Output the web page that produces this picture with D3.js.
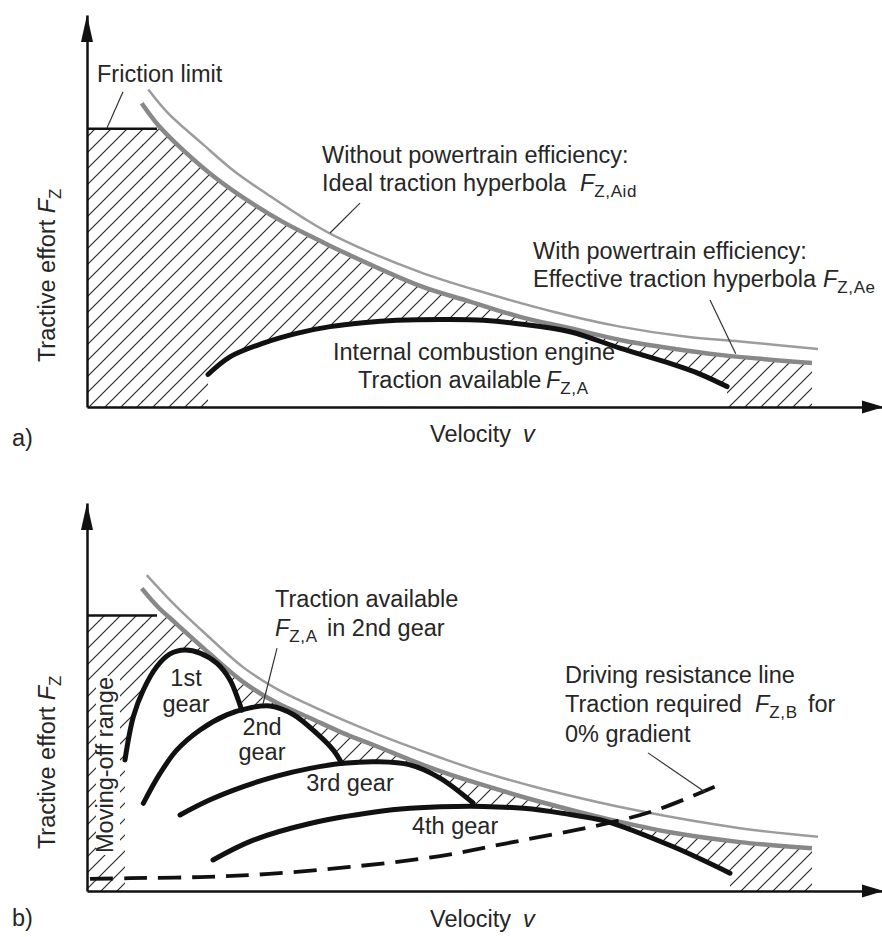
<!DOCTYPE html>
<html><head><meta charset="utf-8">
<script src="https://cdn.jsdelivr.net/npm/d3@7"></script>
<style>
html,body{margin:0;padding:0;background:#fff;}
svg{display:block;}
text{font-family:"Liberation Sans",Arial,Helvetica,sans-serif;fill:#262626;white-space:pre;}
</style></head><body>
<svg id="chart" width="882" height="937"></svg>
<script>
// ---------- data (velocity v, tractive effort F in relative units 0..100) ----------
const FRICTION = 71;          // friction limit level
const FRICTION_END = 8.83;    // v where friction line ends
// panel a
const idealA = [[7.73,81.0],[10.25,74.9],[14.46,67.3],[18.66,60.0],[22.86,54.1],[27.07,48.5],[31.27,43.6],[41.99,34.4],[50.40,29.0],[58.80,24.3],[67.21,20.5],[75.62,17.9],[82.35,16.7],[92.18,14.8]];
const effectiveA = [[6.90,77.5],[8.99,71.9],[12.36,65.1],[16.56,57.9],[20.77,52.0],[24.97,46.9],[29.17,42.6],[31.27,40.5],[41.99,30.9],[48.30,26.9],[54.60,23.0],[60.91,20.1],[67.21,17.1],[73.52,15.0],[79.82,13.3],[91.42,11.2]];
const engineA = [[15.26,8.3],[18.03,12.8],[22.23,16.3],[26.44,18.8],[30.64,20.5],[34.80,21.5],[39.05,22.1],[45.78,22.3],[50.0,22.1],[54.60,21.2],[60.91,19.2],[67.21,15.0],[73.52,11.1],[77.30,8.4],[80.71,5.2]];
// panel b
const idealB = [[7.53,81.4],[11.31,73.2],[15.51,65.2],[19.67,57.7],[23.92,52.1],[28.12,47.9],[32.28,44.1],[36.53,40.5],[40.73,37.2],[44.51,34.4],[50.0,30.6],[57.12,26.5],[69.73,20.6],[82.35,16.2],[92.18,14.0]];
const effectiveB = [[6.90,78.0],[8.95,73.2],[11.31,68.8],[15.51,61.1],[19.67,53.9],[23.92,48.5],[28.12,44.6],[32.28,40.7],[36.53,37.3],[40.73,33.8],[44.51,30.9],[48.68,28.1],[57.12,23.0],[65.57,18.6],[73.90,15.0],[82.35,12.6],[91.42,11.0]];
const gear1 = [[4.79,33.8],[5.84,44.9],[7.10,51.8],[8.79,57.8],[10.47,61.1],[12.36,62.1],[14.25,61.3],[16.36,58.7],[18.03,54.4],[19.08,49.2],[19.51,46.6]];
const gear2 = [[7.10,22.6],[9.21,30.3],[11.31,36.3],[14.25,41.5],[17.62,45.4],[20.55,47.2],[23.08,47.7],[26.01,45.5],[28.97,40.6],[31.06,36.3],[32.12,32.9]];
const gear3 = [[11.73,19.6],[15.51,23.5],[19.71,26.9],[23.92,29.6],[28.12,31.6],[32.32,32.9],[36.53,33.3],[40.73,32.5],[44.51,29.1],[48.68,22.7]];
const gear4 = [[15.89,8.0],[20.97,13.1],[28.12,17.4],[36.53,20.4],[40.73,21.3],[44.51,21.7],[50.0,21.8],[55.02,21.3],[60.0,20.0],[65.54,17.9],[73.93,11.4],[81.08,4.6]];
const resistanceB = [[0.38,3.1],[5.42,3.3],[14.25,3.6],[22.95,4.4],[33.17,6.2],[44.51,9.0],[52.93,12.3],[65.54,17.4],[71.84,20.9],[79.41,27.1]];
// leader lines [[v1,F1],[v2,F2]]
const leadersA = [[[4.54,80.4],[2.52,71.2]],[[34.43,52.0],[30.64,44.4]],[[78.56,27.3],[81.8,13.6]]];
const leadersB = [[[23.96,62.6],[22.19,48.2]],[[70.74,35.6],[77.93,25.5]]];

// ---------- setup ----------
const svg = d3.select('#chart');
const x = d3.scaleLinear().domain([0,100.5]).range([87,884]);
const yA = d3.scaleLinear().domain([0,100]).range([407,15]);
const yB = d3.scaleLinear().domain([0,100]).range([891,503]);

const defs = svg.append('defs');
defs.append('pattern').attr('id','hatch').attr('patternUnits','userSpaceOnUse')
  .attr('width',16).attr('height',16)
  .append('path').attr('d','M-3,3 L3,-3 M0,16 L16,0 M13,19 L19,13')
  .attr('stroke','#2a2a2a').attr('stroke-width',1.2).attr('fill','none');

const curve = d3.curveCatmullRom.alpha(0.5);

function drawPanel(id, y, ideal, eff, lowers, blackCurves) {
  const g = svg.append('g');
  const area = d3.area().x(d=>x(d[0])).y0(y(0)).y1(d=>y(d[1])).curve(curve);
  const line = d3.line().x(d=>x(d[0])).y(d=>y(d[1])).curve(curve);
  // hatched region: below friction limit and effective hyperbola
  const clipId = 'clip'+id;
  defs.append('clipPath').attr('id',clipId).append('rect')
    .attr('x',x(0)).attr('y',y(FRICTION))
    .attr('width',x(eff[eff.length-1][0])-x(0)).attr('height',y(0)-y(FRICTION));
  const hg = g.append('g').attr('clip-path',`url(#${clipId})`);
  hg.append('rect').attr('x',x(0)).attr('y',y(FRICTION))
    .attr('width',x(eff[0][0])-x(0)+1).attr('height',y(0)-y(FRICTION)).attr('fill','url(#hatch)');
  hg.append('path').attr('d',area(eff)).attr('fill','url(#hatch)');
  // remove hatching below the available-traction curves
  lowers.forEach(c=>g.append('path').attr('d',area(c)).attr('fill','#fff'));
  // hyperbolas
  g.append('path').attr('d',line(ideal)).attr('fill','none').attr('stroke','#9c9c9c').attr('stroke-width',2.5);
  g.append('path').attr('d',line(eff)).attr('fill','none').attr('stroke','#888').attr('stroke-width',4.5);
  // friction limit
  g.append('line').attr('x1',x(0)).attr('x2',x(FRICTION_END)).attr('y1',y(FRICTION)).attr('y2',y(FRICTION))
    .attr('stroke','#111').attr('stroke-width',2.5);
  blackCurves.forEach(c=>g.append('path').attr('d',line(c)).attr('fill','none')
    .attr('stroke','#111').attr('stroke-width',5).attr('stroke-linecap','round'));
  // axes
  g.append('g').attr('transform',`translate(0,${y(0)})`)
    .call(d3.axisBottom(x).tickValues([]).tickSizeOuter(0))
    .call(s=>s.select('.domain').attr('stroke','#111').attr('stroke-width',2.5));
  g.append('g').attr('transform',`translate(${x(0)},0)`)
    .call(d3.axisLeft(y).tickValues([]).tickSizeOuter(0))
    .call(s=>s.select('.domain').attr('stroke','#111').attr('stroke-width',2.5));
  const tx = x(0), ty = y(100);
  g.append('path').attr('d',`M${tx},${ty} L${tx-6},${ty+27} L${tx+6},${ty+27} Z`).attr('fill','#111');
  const rx = x(100.5), ry = y(0);
  g.append('path').attr('d',`M${rx},${ry} L${rx-22},${ry-6.5} L${rx-22},${ry+6.5} Z`).attr('fill','#111');
  return {g,line};
}

function leaders(g, y, arr) {
  arr.forEach(l=>g.append('line').attr('x1',x(l[0][0])).attr('y1',y(l[0][1]))
    .attr('x2',x(l[1][0])).attr('y2',y(l[1][1])).attr('stroke','#333').attr('stroke-width',1.2));
}

function addText(px, py, parts, opts={}) {
  const t = svg.append('text').attr('x',px).attr('y',py).attr('font-size',opts.size||23.5);
  if (opts.anchor) t.attr('text-anchor',opts.anchor);
  if (opts.rotate) t.attr('transform',`rotate(-90 ${px} ${py})`);
  parts.forEach(p=>{
    const s = t.append('tspan').text(p.t);
    if (p.italic) s.attr('font-style','italic');
    if (p.sub) s.attr('font-size',17).attr('dy',6).attr('letter-spacing',0.6);
    if (p.back) s.attr('dy',-6);
    if (p.x!=null) s.attr('x',p.x);
  });
  return t;
}

// ---------- panel a ----------
const pa = drawPanel('a', yA, idealA, effectiveA, [engineA], [engineA]);
leaders(pa.g, yA, leadersA);

// ---------- panel b ----------
const pb = drawPanel('b', yB, idealB, effectiveB, [gear1,gear2,gear3,gear4], [gear4,gear3,gear2,gear1]);
pb.g.append('path').attr('d',pb.line(resistanceB)).attr('fill','none')
  .attr('stroke','#111').attr('stroke-width',3.8).attr('stroke-dasharray','23,11');
leaders(pb.g, yB, leadersB);
// white box behind moving-off label
svg.append('rect').attr('x',96).attr('y',676).attr('width',24).attr('height',179).attr('fill','#fff');

// ---------- texts panel a ----------
addText(97,82,[{t:'Friction limit'}]);
addText(322,163,[{t:'Without powertrain efficiency:'}]);
addText(322,191,[{t:'Ideal traction hyperbola'},{t:'F',italic:true,x:580},{t:'Z,Aid',sub:true}]);
addText(533,259,[{t:'With powertrain efficiency:'}]);
addText(533,287,[{t:'Effective traction hyperbola'},{t:'F',italic:true,x:823},{t:'Z,Ae',sub:true}]);
addText(333,360,[{t:'Internal combustion engine'}]);
addText(358,388,[{t:'Traction available'},{t:'F',italic:true,x:546},{t:'Z,A',sub:true}]);
addText(430,442,[{t:'Velocity'},{t:'v',italic:true,x:523}]);
addText(12,446,[{t:'a)'}]);
addText(55,275,[{t:'Tractive effort '},{t:'F',italic:true},{t:'Z',sub:true}],{anchor:'middle',rotate:true});

// ---------- texts panel b ----------
addText(55,762,[{t:'Tractive effort '},{t:'F',italic:true},{t:'Z',sub:true}],{anchor:'middle',rotate:true});
addText(113,765,[{t:'Moving-off range'}],{anchor:'middle',rotate:true});
addText(186,686,[{t:'1st'}],{anchor:'middle'});
addText(186,712,[{t:'gear'}],{anchor:'middle'});
addText(262,735,[{t:'2nd'}],{anchor:'middle'});
addText(262,760,[{t:'gear'}],{anchor:'middle'});
addText(350,791,[{t:'3rd gear'}],{anchor:'middle'});
addText(412,834,[{t:'4th gear'}]);
addText(275,607,[{t:'Traction available'}]);
addText(275,636,[{t:'F',italic:true},{t:'Z,A',sub:true},{t:'in 2nd gear',back:true,x:327}]);
addText(565,683,[{t:'Driving resistance line'}]);
addText(565,712,[{t:'Traction required'},{t:'F',italic:true,x:755},{t:'Z,B',sub:true},{t:'for',back:true,x:808}]);
addText(565,742,[{t:'0% gradient'}]);
addText(430,927,[{t:'Velocity'},{t:'v',italic:true,x:523}]);
addText(12,926,[{t:'b)'}]);
</script>
</body></html>
